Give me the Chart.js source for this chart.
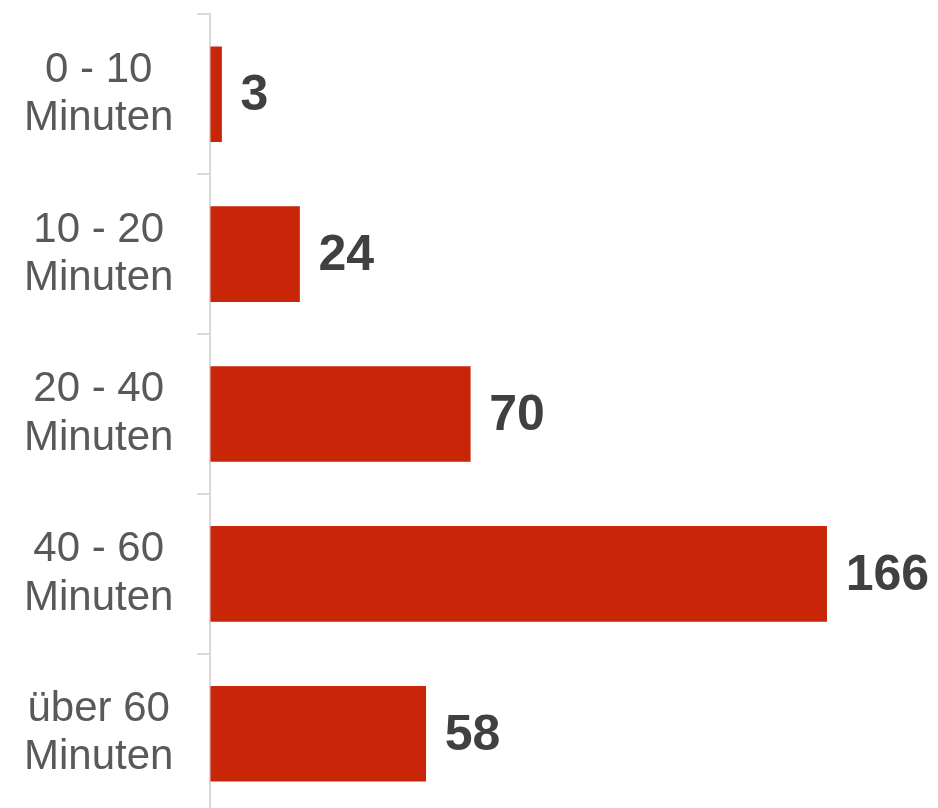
<!DOCTYPE html>
<html>
<head>
<meta charset="utf-8">
<script src="https://cdn.jsdelivr.net/npm/chart.js@4/dist/chart.umd.min.js"></script>
<style>
    html, body { margin: 0; padding: 0; background: #fff; overflow: hidden; }
    #wrap { position: absolute; left: 0; top: -58px; width: 938px; height: 944px; }
</style>
</head>
<body>
<div id="wrap"><canvas id="durationChart"></canvas></div>
<script>
// Chart data
const categories = [
    ['0 - 10', 'Minuten'],
    ['10 - 20', 'Minuten'],
    ['20 - 40', 'Minuten'],
    ['40 - 60', 'Minuten'],
    ['über 60', 'Minuten']
];
const counts = [3, 24, 70, 166, 58];

const barColor = '#c92508';
const labelColor = '#404040';
const tickColor = '#595959';
const lineColor = '#d9d9d9';

// Draw the value next to each bar
const valueLabels = {
    id: 'valueLabels',
    afterDatasetsDraw(chart) {
        const ctx = chart.ctx;
        const meta = chart.getDatasetMeta(0);
        ctx.save();
        ctx.font = 'bold 50px "Liberation Sans", Arial, sans-serif';
        ctx.fillStyle = labelColor;
        ctx.textAlign = 'left';
        ctx.textBaseline = 'middle';
        meta.data.forEach(function(bar, i) {
            ctx.fillText(String(chart.data.datasets[0].data[i]), bar.x + 19, bar.y + 2);
        });
        ctx.restore();
    }
};

const canvas = document.getElementById('durationChart');
new Chart(canvas.getContext('2d'), {
    type: 'bar',
    data: {
        labels: categories,
        datasets: [{
            data: counts,
            backgroundColor: barColor,
            borderWidth: 0,
            barThickness: 95
        }]
    },
    options: {
        indexAxis: 'y',
        responsive: true,
        maintainAspectRatio: false,
        animation: false,
        events: [],
        layout: {
            padding: { top: 14, bottom: 16, left: 0, right: 0 }
        },
        plugins: {
            legend: { display: false },
            tooltip: { enabled: false }
        },
        scales: {
            x: {
                display: false,
                min: 0,
                max: 196
            },
            y: {
                grid: {
                    drawOnChartArea: false,
                    color: lineColor,
                    tickLength: 13,
                    lineWidth: 2
                },
                border: {
                    color: lineColor,
                    width: 2
                },
                ticks: {
                    color: tickColor,
                    padding: 24,
                    crossAlign: 'center',
                    font: {
                        family: '"Liberation Sans", Arial, sans-serif',
                        size: 42,
                        lineHeight: 1.15
                    }
                }
            }
        }
    },
    plugins: [valueLabels]
});
</script>
</body>
</html>
